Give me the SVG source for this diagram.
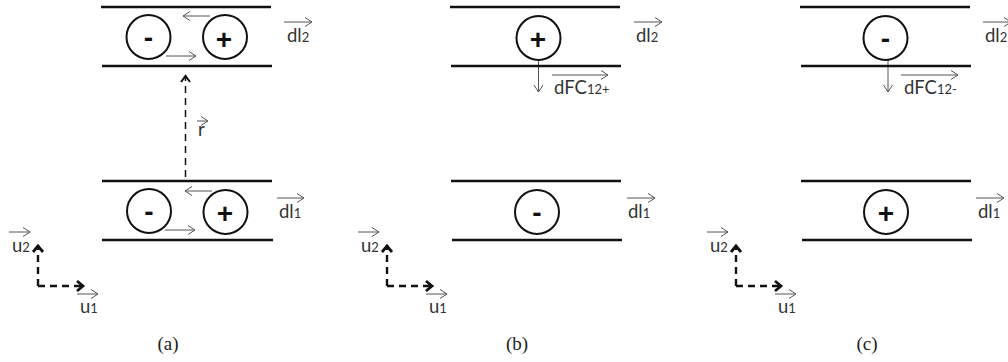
<svg xmlns="http://www.w3.org/2000/svg" width="1008" height="362" viewBox="0 0 1008 362">
<defs>
<marker id="thin" markerUnits="userSpaceOnUse" markerWidth="12" markerHeight="12" refX="10" refY="6" orient="auto"><path d="M3,1.500 L10,6 L3,10.500" fill="none" stroke="#555" stroke-width="1"/></marker>
<marker id="thick" markerUnits="userSpaceOnUse" markerWidth="12" markerHeight="12" refX="9" refY="6" orient="auto"><path d="M3,1.500 L9,6 L3,10.500" fill="none" stroke="#111" stroke-width="2"/></marker>
<marker id="heavy" markerUnits="userSpaceOnUse" markerWidth="14" markerHeight="14" refX="11" refY="7" orient="auto"><path d="M4,2 L10,7 L4,12" fill="none" stroke="#111" stroke-width="2.800"/></marker>
</defs>
<style>
.b{stroke:#111;stroke-width:2.400;fill:none}
.c{stroke:#111;stroke-width:2;fill:#fff}
.v{stroke:#555;stroke-width:1;fill:none;marker-end:url(#thin)}
.d{stroke:#111;fill:none;stroke-dasharray:7 5}
text{font-family:Lato,"Liberation Sans",sans-serif;fill:#333;font-size:18.500px}
.s{font-size:13px;fill:#333}
.sign{font-family:"Liberation Sans",sans-serif;font-weight:700;font-size:28px;fill:#111;text-anchor:middle}
.cap{font-family:"Liberation Serif",serif;font-size:19px;fill:#222;text-anchor:middle}
</style>
<g id="connectors">
<path class="d" stroke-width="1.500" d="M185.500 177V76" marker-end="url(#thick)"/>
<path class="v" d="M197 121H208"/>
<path class="v" d="M210 16H183"/><path class="v" d="M166 56H196"/>
<path class="v" d="M212 191H185"/><path class="v" d="M165 230H195"/>
<path class="v" d="M284 22H312"/><path class="v" d="M277 198H304"/>
<path class="v" d="M634 22H662"/><path class="v" d="M627 198H655"/>
<path class="v" d="M983 22H1011"/><path class="v" d="M976 198H1004"/>
<path class="v" d="M538.500 60V92"/><path class="v" d="M552 75H608"/>
<path class="v" d="M888 60V92"/><path class="v" d="M901 75H958"/>
<path class="v" d="M9 232H30"/><path class="v" d="M77 294H98"/>
<path class="v" d="M358 232H379"/><path class="v" d="M426 294H447"/>
<path class="v" d="M707 232H728"/><path class="v" d="M775 294H796"/>
<path class="d" stroke-width="2.400" d="M38 286V245" marker-end="url(#heavy)"/>
<path class="d" stroke-width="2.400" d="M38 286H84" marker-end="url(#heavy)"/>
<path class="d" stroke-width="2.400" d="M387 286V245" marker-end="url(#heavy)"/>
<path class="d" stroke-width="2.400" d="M387 286H433" marker-end="url(#heavy)"/>
<path class="d" stroke-width="2.400" d="M736 286V245" marker-end="url(#heavy)"/>
<path class="d" stroke-width="2.400" d="M736 286H782" marker-end="url(#heavy)"/>
</g>
<g id="panel-a">
<path class="b" d="M101 7H271M102 66H272M102 181H272M102 240H273"/>
<g id="a-top-minus"><circle class="c" cx="148.500" cy="37" r="22"/><text class="sign" x="148.500" y="47">-</text></g>
<g id="a-top-plus"><circle class="c" cx="225" cy="37" r="22"/><text class="sign" x="224" y="49">+</text></g>
<g id="a-bottom-minus"><circle class="c" cx="149" cy="211" r="22"/><text class="sign" x="149" y="221">-</text></g>
<g id="a-bottom-plus"><circle class="c" cx="225.500" cy="212" r="22"/><text class="sign" x="225" y="223">+</text></g>
<text x="287" y="42">dl<tspan class="s">2</tspan></text>
<text x="279" y="218">dl<tspan class="s">1</tspan></text>
<text x="198" y="136">r</text>
<text x="12" y="252">u<tspan class="s">2</tspan></text>
<text x="80" y="313">u<tspan class="s">1</tspan></text>
<text class="cap" x="168" y="350">(a)</text>
</g>
<g id="panel-b">
<path class="b" d="M450 7H620M451 66H621M451 181H621M452 240H622"/>
<g id="b-top-plus"><circle class="c" cx="538.500" cy="38" r="22"/><text class="sign" x="538" y="49">+</text></g>
<g id="b-bottom-minus"><circle class="c" cx="537" cy="212" r="22"/><text class="sign" x="537" y="222">-</text></g>
<text x="636" y="42">dl<tspan class="s">2</tspan></text>
<text x="628" y="218">dl<tspan class="s">1</tspan></text>
<text x="554" y="94">dFC<tspan class="s">12+</tspan></text>
<text x="361" y="252">u<tspan class="s">2</tspan></text>
<text x="429" y="313">u<tspan class="s">1</tspan></text>
<text class="cap" x="517" y="350">(b)</text>
</g>
<g id="panel-c">
<path class="b" d="M800 7H970M801 66H971M801 181H971M802 240H972"/>
<g id="c-top-minus"><circle class="c" cx="885.500" cy="38" r="22"/><text class="sign" x="885.500" y="48">-</text></g>
<g id="c-bottom-plus"><circle class="c" cx="886" cy="212" r="22"/><text class="sign" x="886" y="223">+</text></g>
<text x="985" y="42">dl<tspan class="s">2</tspan></text>
<text x="978" y="218">dl<tspan class="s">1</tspan></text>
<text x="904" y="94">dFC<tspan class="s">12-</tspan></text>
<text x="710" y="252">u<tspan class="s">2</tspan></text>
<text x="778" y="313">u<tspan class="s">1</tspan></text>
<text class="cap" x="867" y="350">(c)</text>
</g>
</svg>
